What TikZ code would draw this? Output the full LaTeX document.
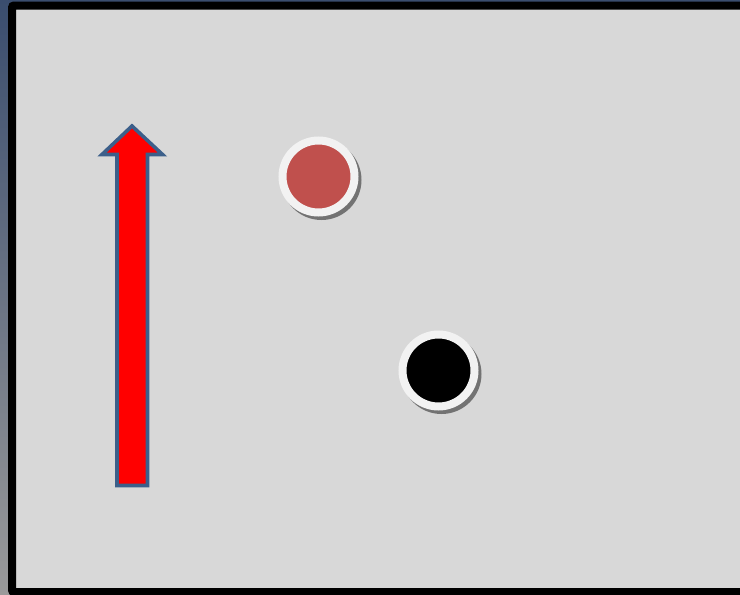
\documentclass[tikz,border=0pt]{standalone}
\usepackage{tikz}
\usetikzlibrary{positioning}

\definecolor{panelgray}{HTML}{D8D8D8}
\definecolor{ringwhite}{HTML}{F2F2F2}
\definecolor{ballred}{HTML}{C0504D}
\definecolor{arrowred}{HTML}{FF0000}
\definecolor{edgeblue}{HTML}{3C5F8A}
\definecolor{topblue}{HTML}{3A4D6E}
\definecolor{bottomgray}{HTML}{9A9A9A}

\begin{document}
\begin{tikzpicture}[
    x=1pt, y=-1pt,
    ball/.style={circle, draw=ringwhite, line width=8pt, minimum size=72pt, inner sep=0pt},
    shade/.style={circle, fill=black!55, minimum size=80pt, inner sep=0pt},
    arrowbody/.style={draw=edgeblue, fill=arrowred, line width=3.6pt, line join=miter}
]
\useasboundingbox (0,0) rectangle (740,595);
\shade[top color=topblue, bottom color=bottomgray] (0,0) rectangle (740,595);
\draw[line width=8pt, fill=panelgray, rounded corners=2pt] (12,5.5) rectangle (752,592);

% up arrow
\draw[arrowbody] (132,126) -- (102,154.5) -- (117,154.5) -- (117,485.5)
    -- (147.5,485.5) -- (147.5,154.5) -- (162.5,154.5) -- cycle;

% balls with their shadows
\node[shade] (redshade) at (321.5,180) {};
\node[ball, fill=ballred] (redball) at (318.5,176.5) {};
\node[shade] (blackshade) at (441.5,374) {};
\node[ball, fill=black] (blackball) at (438.5,370.5) {};
\end{tikzpicture}
\end{document}
